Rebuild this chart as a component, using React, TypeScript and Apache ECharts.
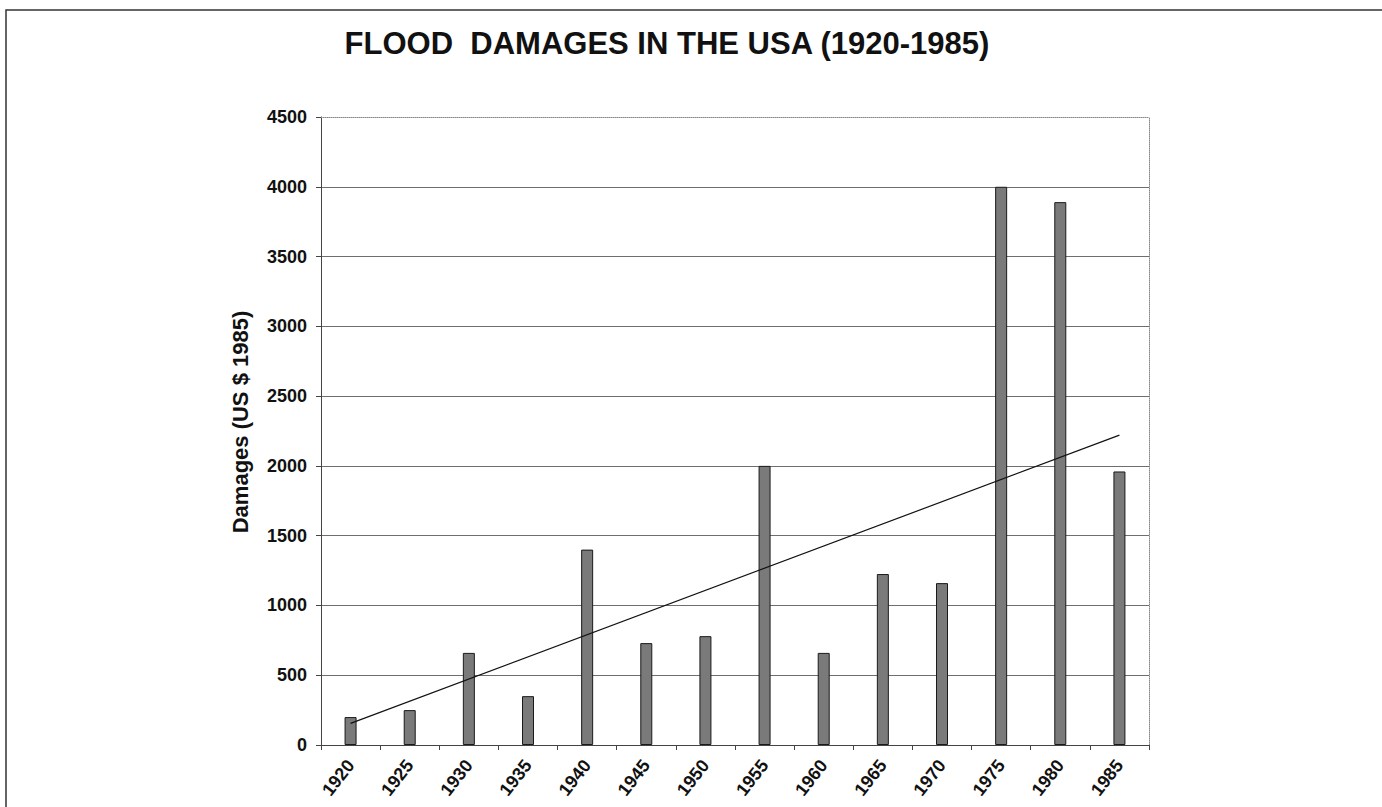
import React, { useEffect, useRef } from "react";
import * as echarts from "echarts";

const titleText = "FLOOD  DAMAGES IN THE USA (1920-1985)";
const yAxisName = "Damages (US $ 1985)";
const years = ["1920", "1925", "1930", "1935", "1940", "1945", "1950", "1955", "1960", "1965", "1970", "1975", "1980", "1985"];
const damages = [200, 250, 660, 350, 1400, 730, 780, 2000, 660, 1225, 1160, 4000, 3890, 1960];
const trendStart = 155;
const trendEnd = 2220;

const FONT = "'Liberation Sans', Arial, Helvetica, sans-serif";

export default function App() {
  const ref = useRef<HTMLDivElement>(null);
  useEffect(() => {
    if (!ref.current) return;
    const chart = echarts.init(ref.current, undefined, { renderer: "svg" });
    const trend = years.map((_, i) => (i === 0 ? trendStart : i === years.length - 1 ? trendEnd : null));
    const splitColors = [0, 1, 2, 3, 4, 5, 6, 7, 8, 9].map((i) => (i === 9 ? "rgba(0,0,0,0)" : "#6e6e6e"));
    chart.setOption({
      animation: false,
      backgroundColor: "#ffffff",
      textStyle: { fontFamily: FONT },
      title: {
        text: titleText,
        left: 662,
        textAlign: "center",
        top: 23,
        textStyle: { fontFamily: FONT, fontWeight: "bold", fontSize: 31, color: "#111" },
      },
      graphic: [
        {
          type: "rect",
          shape: { x: 6, y: 10, width: 1400, height: 900 },
          style: { fill: "none", stroke: "#333", lineWidth: 1.5 },
          silent: true,
        },
      ],
      grid: { left: 321, right: 233, top: 117, bottom: 62, containLabel: false },
      xAxis: [
        {
          type: "category",
          data: years,
          position: "bottom",
          axisLine: { show: true, lineStyle: { color: "#444", width: 1 } },
          axisTick: { show: true, length: 5, lineStyle: { color: "#444" } },
          axisLabel: {
            rotate: 52,
            margin: 17,
            color: "#111",
            fontFamily: FONT,
            fontWeight: "bold",
            fontSize: 18,
          },
        },
        {
          type: "category",
          data: years,
          position: "top",
          axisLine: { show: true, onZero: false, lineStyle: { color: "#888", width: 1, type: "dotted" } },
          axisTick: { show: false },
          axisLabel: { show: false },
        },
      ],
      yAxis: [
        {
          type: "value",
          min: 0,
          max: 4500,
          interval: 500,
          name: yAxisName,
          nameLocation: "middle",
          nameGap: 70,
          nameTextStyle: {
            fontFamily: FONT,
            fontWeight: "bold",
            fontSize: 22,
            color: "#111",
            padding: [0, 0, 0, 18],
          },
          axisLine: { show: true, lineStyle: { color: "#444", width: 1 } },
          axisTick: { show: true, length: 5, lineStyle: { color: "#444" } },
          axisLabel: {
            color: "#111",
            fontFamily: FONT,
            fontWeight: "bold",
            fontSize: 18,
            margin: 14,
            formatter: (v: number) => String(v),
          },
          splitLine: { show: true, lineStyle: { color: splitColors, width: 1 } },
        },
        {
          type: "value",
          min: 0,
          max: 4500,
          interval: 500,
          position: "right",
          axisLine: { show: true, onZero: false, lineStyle: { color: "#888", width: 1, type: "dotted" } },
          axisTick: { show: false },
          axisLabel: { show: false },
          splitLine: { show: false },
        },
      ],
      series: [
        {
          type: "bar",
          name: "Damages",
          data: damages,
          barWidth: 12,
          itemStyle: { color: "#7a7a7a", borderColor: "#1a1a1a", borderWidth: 1 },
        },
        {
          type: "line",
          name: "Trend",
          data: trend,
          connectNulls: true,
          symbol: "none",
          lineStyle: { color: "#111", width: 1.2 },
          z: 5,
        },
      ],
    });
    return () => chart.dispose();
  }, []);
  return (
    <div
      ref={ref}
      style={{ position: "absolute", left: 0, top: 0, width: 1382, height: 807, background: "#fff" }}
    />
  );
}
